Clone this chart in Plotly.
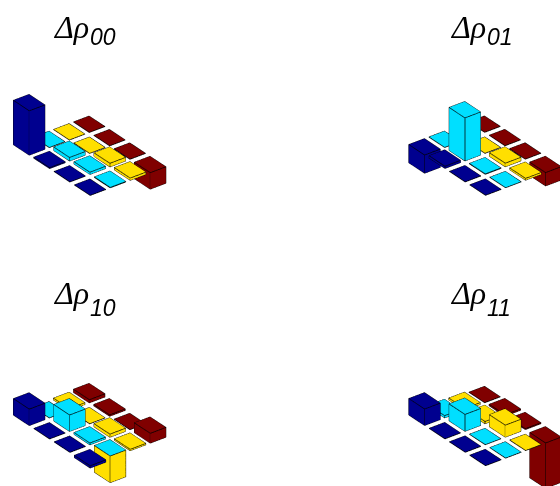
import math
import plotly.graph_objects as go

# bar values: HEIGHTS[panel][row i][column j]
RHO_00 = [[1.00, 0.02, 0.00, 0.00], [0.00, 0.08, 0.05, 0.01], [0.00, 0.00, 0.08, 0.05], [0.00, 0.00, 0.00, -0.37]]
RHO_01 = [[-0.41, 0.05, 0.00, 0.00], [0.00, 0.97, 0.01, 0.00], [0.00, 0.00, 0.08, 0.04], [0.00, 0.00, 0.00, -0.30]]
RHO_10 = [[0.37, 0.00, 0.00, -0.05], [0.00, 0.37, 0.04, -0.60], [0.04, 0.00, 0.07, 0.03], [0.07, 0.03, 0.00, 0.22]]
RHO_11 = [[0.37, 0.00, 0.00, 0.00], [0.05, 0.38, 0.00, 0.00], [0.04, 0.05, 0.27, 0.00], [0.00, 0.03, 0.02, -1.02]]
PANELS = [RHO_00, RHO_01, RHO_10, RHO_11]
SUBSCRIPTS = ["00", "01", "10", "11"]
ROW_COLORS = ["#00008f", "#00dfff", "#ffdf00", "#800000"]
SIDE_OVERRIDE = {(2, 1, 3): "#ffdf00"}  # (panel, row, column): side colour
BAR_LIFT = {(2, 1, 3): 0.05}

COL_OFFSET = (7.08, 12.57)
ROW_DROP = 6.10
BAR = 0.39

X_MID, Y_MID, Z_MID = 5.0, 7.46, -1.926
X_H, Y_H, Z_H = 6.0, 9.0, 5.6
PX = (33.8, 25.2, 51.4)
AZ, EL = math.radians(52.9), math.radians(30)
DIST = 2.0

xs, ys, zs, ia, ib, ic, fc = [], [], [], [], [], [], []
ex, ey, ez = [], [], []


def add_bar(cx, cy, z0, z1, top, side):
    n = len(xs)
    for z in (z0, z1):
        for dx, dy in ((-1, -1), (1, -1), (1, 1), (-1, 1)):
            xs.append(cx + dx * BAR)
            ys.append(cy + dy * BAR)
            zs.append(z)
    quads = [((4, 5, 6, 7), top), ((0, 1, 2, 3), side), ((0, 1, 5, 4), side),
             ((1, 2, 6, 5), side), ((2, 3, 7, 6), side), ((3, 0, 4, 7), side)]
    for q, color in quads:
        ia.extend([n + q[0], n + q[0]])
        ib.extend([n + q[1], n + q[2]])
        ic.extend([n + q[2], n + q[3]])
        fc.extend([color, color])
        for k in list(q) + [q[0]]:
            ex.append(xs[n + k])
            ey.append(ys[n + k])
            ez.append(zs[n + k])
        ex.append(None)
        ey.append(None)
        ez.append(None)


for p, values in enumerate(PANELS):
    ox = COL_OFFSET[0] * (p % 2)
    oy = COL_OFFSET[1] * (p % 2)
    oz = -ROW_DROP * (p // 2)
    for i, row in enumerate(values):
        for j, v in enumerate(row):
            lift = BAR_LIFT.get((p, i, j), 0)
            z0, z1 = min(v, 0) + lift, max(v, 0) + lift
            side = SIDE_OVERRIDE.get((p, i, j), ROW_COLORS[i])
            add_bar(ox + j, oy + i, oz + z0, oz + z1, ROW_COLORS[i], side)

fig = go.Figure()
fig.add_trace(go.Mesh3d(x=xs, y=ys, z=zs, i=ia, j=ib, k=ic, facecolor=fc, flatshading=True,
                        lighting=dict(ambient=1, diffuse=0, specular=0, fresnel=0, roughness=1),
                        hoverinfo="skip", showscale=False))
fig.add_trace(go.Scatter3d(x=ex, y=ey, z=ez, mode="lines", line=dict(color="black", width=1.5),
                           hoverinfo="skip", showlegend=False))

hidden = dict(visible=False, showgrid=False, zeroline=False, showticklabels=False, showbackground=False)
asp = [2 * X_H * PX[0] / 244, 2 * Y_H * PX[1] / 244, 2 * Z_H * PX[2] / 244]
fig.update_layout(
    width=560, height=486, margin=dict(l=0, r=0, t=0, b=0), paper_bgcolor="white", showlegend=False,
    scene=dict(
        domain=dict(x=[0, 1], y=[0, 1]), bgcolor="white", aspectmode="manual",
        aspectratio=dict(x=asp[0], y=asp[1], z=asp[2]),
        xaxis=dict(range=[X_MID - X_H, X_MID + X_H], **hidden),
        yaxis=dict(range=[Y_MID - Y_H, Y_MID + Y_H], **hidden),
        zaxis=dict(range=[Z_MID - Z_H, Z_MID + Z_H], **hidden),
        camera=dict(
            projection=dict(type="orthographic"),
            up=dict(x=0, y=0, z=1),
            center=dict(x=0, y=0, z=0),
            eye=dict(x=DIST * math.cos(EL) * math.sin(AZ), y=-DIST * math.cos(EL) * math.cos(AZ), z=DIST * math.sin(EL)),
        ),
    ),
)

TITLE_X = [52, 449, 52, 449]
DELTA_Y = [8, 8, 274, 274]
SUB_Y = [23, 23, 294, 294]
for p, sub in enumerate(SUBSCRIPTS):
    fig.add_annotation(x=TITLE_X[p] / 560, y=1 - DELTA_Y[p] / 486, xref="paper", yref="paper", xanchor="left", yanchor="top",
                       text="<i>Δρ</i>", showarrow=False, borderpad=0,
                       font=dict(family="Liberation Serif", size=32, color="black"))
    fig.add_annotation(x=(TITLE_X[p] + 37) / 560, y=1 - SUB_Y[p] / 486, xref="paper", yref="paper", xanchor="left", yanchor="top",
                       text="<i>" + sub + "</i>", showarrow=False, borderpad=0,
                       font=dict(family="Liberation Sans", size=23, color="black"))

fig.write_html("out.html", config={"displayModeBar": False},
               post_script="document.body.style.margin='0';var gd=document.getElementById('{plot_id}');Plotly.newPlot(gd,gd.data,gd.layout,{displayModeBar:false});")
